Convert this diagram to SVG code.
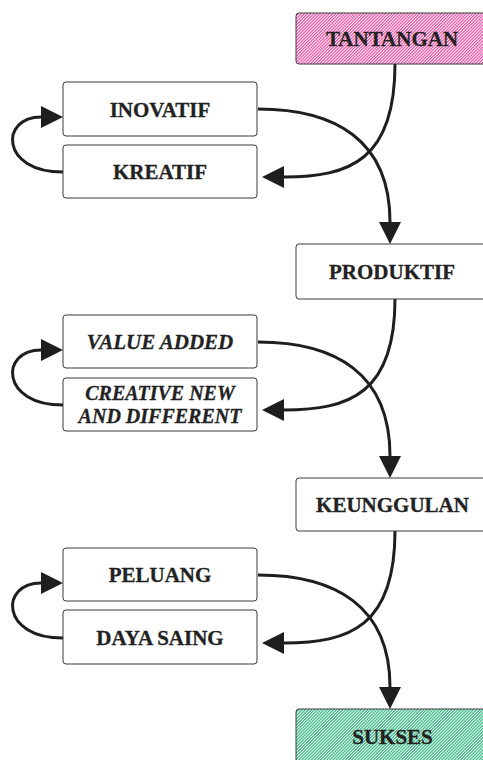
<svg xmlns="http://www.w3.org/2000/svg" width="483" height="760" viewBox="0 0 483 760">
<style>
.box{fill:#fff;stroke:#3a3a3a;stroke-width:1}
.t{font-family:"Liberation Serif","Times New Roman",serif;font-weight:bold;font-size:21px;fill:#222;stroke:#222;stroke-width:0.3;text-anchor:middle}
.i{font-style:italic}
.s{font-size:20px}
.c{fill:none;stroke:#1e1e1e;stroke-width:3}
</style>
<defs>
<pattern id="pink" patternUnits="userSpaceOnUse" width="2.2" height="4" patternTransform="rotate(45)">
<rect width="2.2" height="4" fill="#fff"/><rect width="1.2" height="4" fill="#ec4aa2"/>
</pattern>
<pattern id="green" patternUnits="userSpaceOnUse" width="2.2" height="4" patternTransform="rotate(45)">
<rect width="2.2" height="4" fill="#fff"/><rect width="1.2" height="4" fill="#2db47c"/>
</pattern>
<marker id="ah" markerUnits="userSpaceOnUse" markerWidth="23" markerHeight="23" refX="0" refY="11" orient="auto" viewBox="0 0 23 22" overflow="visible">
<path d="M0,0 L22,11 L0,22 z" fill="#1e1e1e"/>
</marker>
</defs>

<g id="connectors">
<path class="c" d="M395,64 C395,160 350,177 284,177" marker-end="url(#ah)"/>
<path class="c" d="M258,109 C335,109 390,140 390,222" marker-end="url(#ah)"/>
<path class="c" d="M63,172 C0,172 0,117 41,117" marker-end="url(#ah)"/>

<path class="c" d="M395,299 C395,393 350,410 284,410" marker-end="url(#ah)"/>
<path class="c" d="M258,342 C335,342 390,373 390,456" marker-end="url(#ah)"/>
<path class="c" d="M63,405 C0,405 0,350 41,350" marker-end="url(#ah)"/>

<path class="c" d="M395,531 C395,626 350,643 284,643" marker-end="url(#ah)"/>
<path class="c" d="M258,575 C335,575 390,606 390,687" marker-end="url(#ah)"/>
<path class="c" d="M63,638 C0,638 0,583 41,583" marker-end="url(#ah)"/>
</g>

<g id="tantangan"><rect class="box" x="296" y="13" width="194" height="51" rx="3" style="fill:url(#pink)"/><text class="t" x="392" y="46">TANTANGAN</text></g>
<g id="inovatif"><rect class="box" x="63" y="82" width="194" height="54" rx="3"/><text class="t" x="160" y="116.5">INOVATIF</text></g>
<g id="kreatif"><rect class="box" x="63" y="145" width="194" height="53" rx="3"/><text class="t" x="160" y="179">KREATIF</text></g>
<g id="produktif"><rect class="box" x="296" y="244" width="194" height="55" rx="3"/><text class="t" x="392" y="279">PRODUKTIF</text></g>

<g id="value-added"><rect class="box" x="63" y="315" width="194" height="53" rx="3"/><text class="t i" x="160" y="349">VALUE ADDED</text></g>
<g id="creative"><rect class="box" x="63" y="378" width="194" height="53" rx="3"/><text class="t i s" x="160" y="399.5">CREATIVE NEW</text><text class="t i s" x="160" y="422.5">AND DIFFERENT</text></g>
<g id="keunggulan"><rect class="box" x="296" y="478" width="194" height="53" rx="3"/><text class="t" x="392.5" y="512">KEUNGGULAN</text></g>

<g id="peluang"><rect class="box" x="63" y="548" width="194" height="53" rx="3"/><text class="t" x="160" y="582">PELUANG</text></g>
<g id="daya-saing"><rect class="box" x="63" y="610" width="194" height="54" rx="3"/><text class="t" x="160" y="645">DAYA SAING</text></g>
<g id="sukses"><rect class="box" x="296" y="709" width="194" height="55" rx="3" style="fill:url(#green)"/><text class="t" x="392.5" y="744">SUKSES</text></g>
</svg>
